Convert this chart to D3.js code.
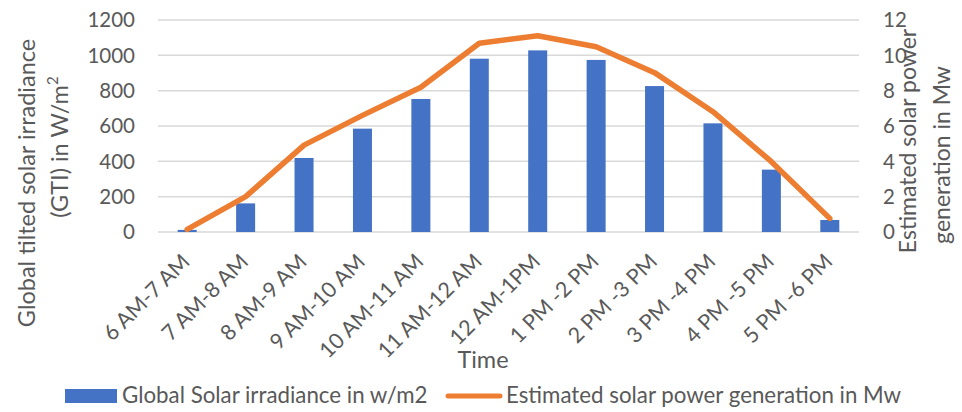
<!DOCTYPE html>
<html><head><meta charset="utf-8">
<script src="https://cdn.jsdelivr.net/npm/d3@7"></script>
<style>body{margin:0;background:#fff;} svg{display:block;font-family:Lato, "Open Sans", sans-serif;}</style>
</head><body>
<svg id="c" width="962" height="412"></svg>
<script>
const categories = ["6 AM-7 AM","7 AM-8 AM","8 AM-9 AM","9 AM-10 AM","10 AM-11 AM","11 AM-12 AM","12 AM-1PM","1 PM -2 PM","2 PM -3 PM","3 PM -4 PM","4 PM -5 PM","5 PM -6 PM"];
const irradiance = [12, 162, 419, 585, 753, 981, 1028, 974, 826, 615, 353, 68];
const power = [0.15, 2.0, 4.92, 6.6, 8.19, 10.68, 11.11, 10.49, 9.02, 6.81, 3.98, 0.77];
const leftTicks = [0, 200, 400, 600, 800, 1000, 1200];
const rightTicks = [0, 2, 4, 6, 8, 10, 12];

const svg = d3.select("#c");
const txt = "#595959";
const L = 158, R = 859, T = 20, B = 232;

const x = d3.scaleBand().domain(categories).range([L, R]).paddingInner(0).paddingOuter(0);
const yL = d3.scaleLinear().domain([0, 1200]).range([B, T]);
const yR = d3.scaleLinear().domain([0, 12]).range([B, T]);

// gridlines
svg.append("g").selectAll("line").data(leftTicks).join("line")
  .attr("x1", L).attr("x2", R)
  .attr("y1", d => yL(d)).attr("y2", d => yL(d))
  .attr("stroke", "#d9d9d9").attr("stroke-width", 1.5);

// left axis labels
svg.append("g").selectAll("text").data(leftTicks).join("text")
  .attr("x", 135).attr("y", d => yL(d)).attr("dy", "0.36em")
  .attr("text-anchor", "end").attr("fill", txt).attr("font-size", 20.5)
  .text(d => d);

// right axis labels
svg.append("g").selectAll("text").data(rightTicks).join("text")
  .attr("x", 883).attr("y", d => yR(d)).attr("dy", "0.36em")
  .attr("text-anchor", "start").attr("fill", txt).attr("font-size", 20.5)
  .text(d => d);

// bars
const bw = 19;
svg.append("g").selectAll("rect").data(irradiance).join("rect")
  .attr("x", (d, i) => x(categories[i]) + x.bandwidth() / 2 - bw / 2)
  .attr("width", bw)
  .attr("y", d => yL(d))
  .attr("height", d => yL(0) - yL(d))
  .attr("fill", "#4472C4");

// line
const line = d3.line()
  .x((d, i) => x(categories[i]) + x.bandwidth() / 2)
  .y(d => yR(d));
svg.append("path").datum(power).attr("d", line)
  .attr("fill", "none").attr("stroke", "#ED7D31").attr("stroke-width", 5.5)
  .attr("stroke-linejoin", "round").attr("stroke-linecap", "round");

// x labels
svg.append("g").selectAll("text").data(categories).join("text")
  .attr("transform", d => `translate(${x(d) + x.bandwidth() / 2 + 4},${B + 31}) rotate(-45)`)
  .attr("text-anchor", "end").attr("fill", txt).attr("font-size", 21.5)
  .text(d => d);

// x title
svg.append("text").attr("x", 483).attr("y", 368).attr("text-anchor", "middle")
  .attr("fill", txt).attr("font-size", 23.5).text("Time");

// left title
const lt = svg.append("g").attr("fill", txt).attr("font-size", 23.5).attr("text-anchor", "middle");
lt.append("text").attr("transform", "translate(35,183) rotate(-90)").text("Global tilted solar irradiance");
const l2 = lt.append("text").attr("transform", "translate(68,147) rotate(-90)");
l2.append("tspan").text("(GTI) in W/m");
l2.append("tspan").attr("font-size", 15).attr("dy", -10).text("2");

// right title
const rt = svg.append("g").attr("fill", txt).attr("font-size", 23).attr("text-anchor", "middle");
rt.append("text").attr("transform", "translate(916,141) rotate(-90)").text("Estimated solar power");
rt.append("text").attr("transform", "translate(950,155) rotate(-90)").text("generation in Mw");

// legend
svg.append("rect").attr("x", 65).attr("y", 389).attr("width", 52).attr("height", 14).attr("fill", "#4472C4");
svg.append("text").attr("x", 122).attr("y", 403).attr("fill", txt).attr("font-size", 22.3)
  .text("Global Solar irradiance in w/m2");
svg.append("line").attr("x1", 448).attr("x2", 500).attr("y1", 396).attr("y2", 396)
  .attr("stroke", "#ED7D31").attr("stroke-width", 5).attr("stroke-linecap", "round");
svg.append("text").attr("x", 506).attr("y", 403).attr("fill", txt).attr("font-size", 22.3)
  .text("Estimated solar power generation in Mw");
</script>
</body></html>
